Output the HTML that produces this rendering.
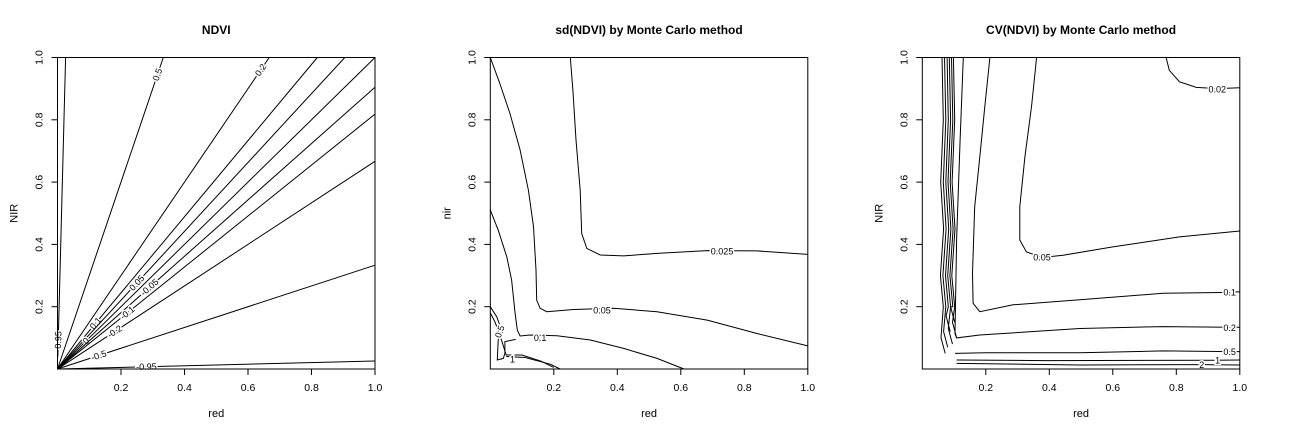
<!DOCTYPE html>
<html><head><meta charset="utf-8">
<style>
html,body{margin:0;padding:0;background:#fff;}
svg{display:block;font-family:"Liberation Sans",Arial,sans-serif;}
</style></head>
<body>
<svg id="chart" width="1298" height="427" viewBox="0 0 1298 427" xmlns="http://www.w3.org/2000/svg"></svg>
<script>
// ---- data ----
const ndviLevels = [0.95, 0.5, 0.2, 0.1, 0.05, 0, -0.05, -0.1, -0.2, -0.5, -0.95];
const ndviLabelPos = [0.0024, 0.315, 0.64, 0.12, 0.25, 0.09, 0.29, 0.22, 0.18, 0.13, 0.28]; // red position of label
const xTicks = [0.2, 0.4, 0.6, 0.8, 1.0];
const yTicks = [0.2, 0.4, 0.6, 0.8, 1.0];
const tickLabels = ["0.2", "0.4", "0.6", "0.8", "1.0"];

const sdLevels = ["0.025", "0.05", "0.1", "0.5", "1"];
const sd025 = [[0.252,1],[0.26,0.895],[0.27,0.735],[0.283,0.574],[0.288,0.435],[0.304,0.387],[0.346,0.366],[0.42,0.363],[0.525,0.371],[0.683,0.38],[0.84,0.379],[1,0.368]];
const sd05 = [[0,1],[0.03,0.917],[0.062,0.82],[0.094,0.703],[0.12,0.574],[0.136,0.457],[0.144,0.318],[0.146,0.221],[0.157,0.195],[0.178,0.184],[0.262,0.191],[0.388,0.195],[0.525,0.184],[0.683,0.157],[0.84,0.114],[1,0.074]];
const sd1 = [[0,0.51],[0.025,0.446],[0.052,0.36],[0.067,0.286],[0.078,0.179],[0.085,0.125],[0.094,0.106],[0.125,0.109],[0.21,0.107],[0.315,0.093],[0.42,0.066],[0.525,0.034],[0.61,0]];
const sd5 = [[0,0.2],[0.02,0.168],[0.036,0.125],[0.025,0.093],[0.022,0.029],[0.041,0.034],[0.046,0.05],[0.046,0.088],[0.08,0.095]];
const sdOne = [[0,0.18],[0.015,0.15],[0.03,0.11],[0.05,0.045],[0.1,0.045],[0.16,0.025],[0.2,0.005]];
const sdOne2 = [[0.05,0.04],[0.11,0.037],[0.19,0.015],[0.22,0]];
const sdLabelAt = [[0.73,0.377],[0.352,0.187],[0.157,0.1],[0.03,0.12],[0.07,0.03]];

const cvLevels = ["0.02","0.05","0.1","0.2","0.5","1","2"];
const cv002 = [[0.768,1],[0.778,0.959],[0.81,0.922],[0.863,0.904],[0.93,0.9],[1,0.903]];
const cv005 = [[0.36,1],[0.344,0.842],[0.323,0.681],[0.307,0.521],[0.307,0.414],[0.328,0.376],[0.377,0.358],[0.443,0.365],[0.6,0.392],[0.81,0.424],[1,0.443]];
const cv01 = [[0.213,1],[0.197,0.842],[0.181,0.681],[0.165,0.521],[0.158,0.307],[0.16,0.211],[0.181,0.184],[0.286,0.206],[0.496,0.222],[0.758,0.243],[0.968,0.246],[1,0.248]];
const cv02 = [[0.129,1],[0.119,0.735],[0.108,0.414],[0.103,0.114],[0.108,0.1],[0.181,0.109],[0.496,0.13],[0.758,0.136],[0.968,0.134],[1,0.134]];
const cv05 = [[0.103,0.05],[0.202,0.052],[0.496,0.052],[0.758,0.058],[0.968,0.056],[1,0.056]];
const cv1 = [[0.108,0.029],[0.39,0.027],[0.92,0.028],[1,0.029]];
const cv2 = [[0.108,0.018],[0.496,0.013],[0.88,0.014],[1,0.013]];
const cvLabelAt = [[0.929,0.898],[0.377,0.358],[0.968,0.246],[0.968,0.131],[0.968,0.054],[0.93,0.027],[0.88,0.013]];
const cvSpikesX = [0.062, 0.07, 0.078, 0.085, 0.092, 0.098];
const cvSpikesBottom = [0.05, 0.07, 0.12, 0.08, 0.15, 0.1];

// ---- layout ----
const svg = document.getElementById('chart');
const NS = 'http://www.w3.org/2000/svg';
const TOP = 57.5, BOT = 369, W = 317.5;
const panelsL = [57.5, 490.3, 922.3];
function sx(p, v){ return panelsL[p] + v * W; }
function sy(v){ return BOT - v * (BOT - TOP); }
function mk(tag, attrs, parent){
  const e = document.createElementNS(NS, tag);
  for (const k in attrs) e.setAttribute(k, attrs[k]);
  (parent || svg).appendChild(e);
  return e;
}
function poly(p, pts, name){
  const d = pts.map((q,i)=>(i?'L':'M')+sx(p,q[0]).toFixed(1)+' '+sy(q[1]).toFixed(1)).join(' ');
  const e = mk('path', {d:d, fill:'none', stroke:'#000', 'stroke-width':1});
  
  
  return e;
}
function label(p, x, y, txt, ang, name){
  const t = mk('text', {x:sx(p,x), y:sy(y)+3, 'font-size':9, 'text-anchor':'middle', fill:'#000', stroke:'#fff', 'stroke-width':3, 'paint-order':'stroke', transform: ang ? `rotate(${ang} ${sx(p,x)} ${sy(y)})` : ''});
  t.textContent = txt;
  
  
}

const titles = ["NDVI", "sd(NDVI) by Monte Carlo method", "CV(NDVI) by Monte Carlo method"];
const ylabs = ["NIR", "nir", "NIR"];

for (let p = 0; p < 3; p++){
  const g = mk('g', {});
  
  
  const cx = sx(p, 0.5);
  const t = mk('text', {x:cx, y:34, 'font-size':12, 'font-weight':'bold', 'text-anchor':'middle'});
  t.textContent = titles[p];
  
  
  const xl = mk('text', {x:cx, y:417, 'font-size':11, 'text-anchor':'middle'});
  xl.textContent = 'red';
  
  
  const yx = panelsL[p] - 40, yy = sy(0.5);
  const yl = mk('text', {x:yx, y:yy, 'font-size':11, 'text-anchor':'middle', transform:`rotate(-90 ${yx} ${yy})`});
  yl.textContent = ylabs[p];
  
  
  for (let i = 0; i < xTicks.length; i++){
    const x = sx(p, xTicks[i]);
    mk('line', {x1:x, x2:x, y1:BOT, y2:BOT+6, stroke:'#000'});
    const tl = mk('text', {x:x, y:391, 'font-size':10.5, 'text-anchor':'middle'});
    tl.textContent = tickLabels[i];
    
    
  }
  for (let i = 0; i < yTicks.length; i++){
    const y = sy(yTicks[i]), x0 = panelsL[p];
    mk('line', {x1:x0-6, x2:x0, y1:y, y2:y, stroke:'#000'});
    const tl = mk('text', {x:x0-15, y:y, 'font-size':10.5, 'text-anchor':'middle', transform:`rotate(-90 ${x0-15} ${y})`});
    tl.textContent = tickLabels[i];
    
    
  }
}

// Panel 1: NDVI lines nir = red*(1+v)/(1-v)
ndviLevels.forEach((v, i) => {
  const s = (1+v)/(1-v);
  const xEnd = Math.min(1, 1/s);
  const pts = [[0.001, 0.001*s],[xEnd, xEnd*s]];
  poly(0, pts, 'ndvi-contour-' + v);
  const lx = ndviLabelPos[i];
  const ang = -Math.atan2((sy(0)-sy(lx*s)), (sx(0,lx)-sx(0,0))) * 180/Math.PI;
  label(0, lx, Math.min(0.97, lx*s), String(v), ang, 'ndvi-contour-label');
});

// Panel 2
[sd025, sd05, sd1, sd5, sdOne, sdOne2].forEach((c,i)=>poly(1, c, 'sd-contour-' + (sdLevels[i]||'1')));
sdLevels.forEach((s,i)=>label(1, sdLabelAt[i][0], sdLabelAt[i][1], s, i===3?-70:0, 'sd-contour-label'));

// Panel 3
[cv002, cv005, cv01, cv02, cv05, cv1, cv2].forEach((c,i)=>poly(2, c, 'cv-contour-' + cvLevels[i]));
cvSpikesX.forEach((x,i)=>{
  const b = cvSpikesBottom[i];
  poly(2, [[x,1],[x+0.004,0.8],[x-0.004,0.6],[x+0.005,0.45],[x-0.005,0.3],[x+0.004,0.2],[x-0.003,b+0.05],[x+0.01,b]], 'cv-noise-contour');
});
cvLevels.forEach((s,i)=>label(2, cvLabelAt[i][0], cvLabelAt[i][1], s, 0, 'cv-contour-label'));

// boxes
for (let p = 0; p < 3; p++){
  const r = mk('rect', {x:panelsL[p], y:TOP, width:W, height:BOT-TOP, fill:'none', stroke:'#000', 'stroke-width':1});
  
  
}
</script>
</body></html>
